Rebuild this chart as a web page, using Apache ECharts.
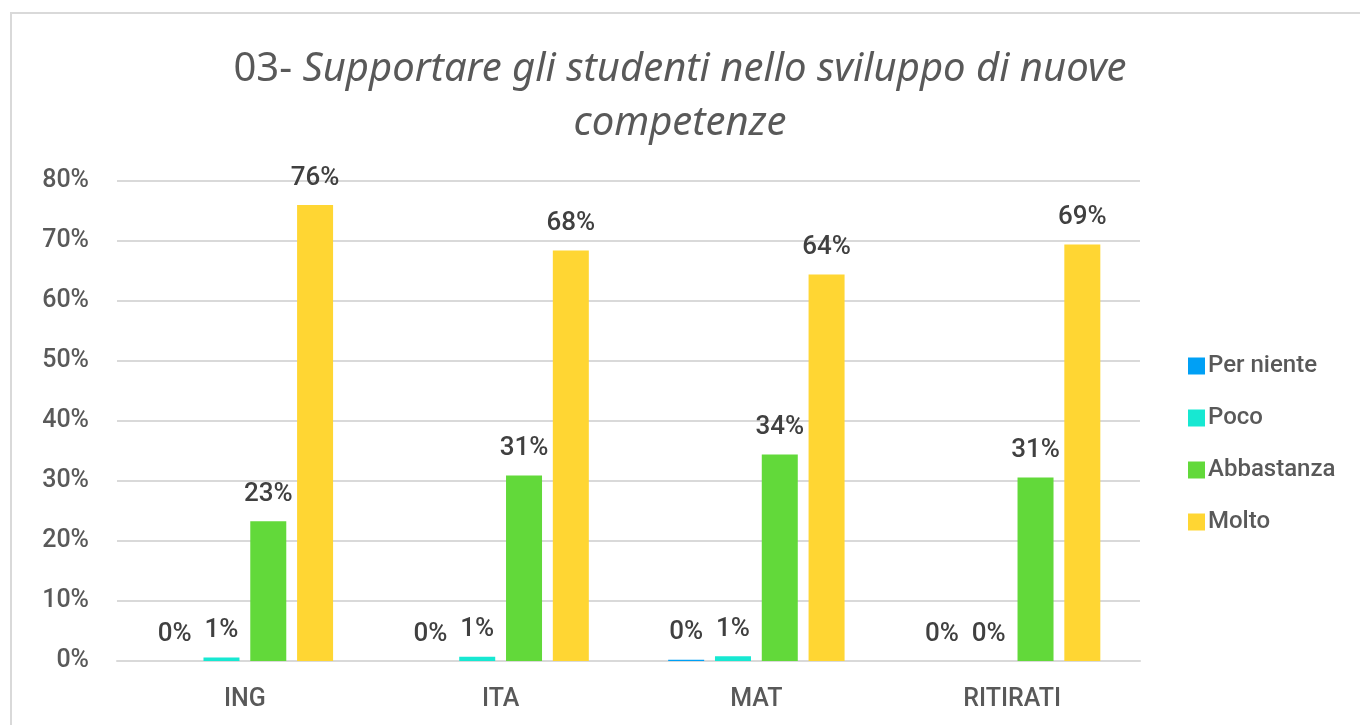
<!DOCTYPE html>
<html>
<head>
<meta charset="utf-8">
<script src="https://cdn.jsdelivr.net/npm/echarts@6/dist/echarts.min.js"></script>
<style>
  html, body { margin: 0; padding: 0; background: #ffffff; }
  #chart { width: 1360px; height: 725px; }
</style>
</head>
<body>
<div id="chart"></div>
<script>
  // dati
  var categories = ['ING', 'ITA', 'MAT', 'RITIRATI'];
  var perNiente = [0, 0, 0.2, 0];
  var poco = [0.6, 0.7, 0.8, 0];
  var abbastanza = [23.3, 30.9, 34.4, 30.6];
  var molto = [76.0, 68.4, 64.4, 69.4];
  var yTicks = [0, 10, 20, 30, 40, 50, 60, 70, 80];

  var seriesNames = ['Per niente', 'Poco', 'Abbastanza', 'Molto'];
  var seriesColors = ['#00a0f5', '#17e8d2', '#62d93a', '#ffd633'];
  var seriesData = [perNiente, poco, abbastanza, molto];

  var FONT = 'Roboto, "Noto Sans", sans-serif';
  var TITLE_FONT = '"Noto Sans", sans-serif';

  var chart = echarts.init(document.getElementById('chart'));

  chart.setOption({
    backgroundColor: '#ffffff',
    animation: false,
    title: {
      text: '{n|03- }{i|Supportare gli studenti nello sviluppo di nuove}\n{i|competenze}',
      left: 'center',
      top: 38,
      textStyle: {
        fontWeight: 'normal',
        rich: {
          n: { fontFamily: TITLE_FONT, fontSize: 40, fontWeight: 'normal', color: '#595959', lineHeight: 54 },
          i: { fontFamily: TITLE_FONT, fontSize: 40, fontWeight: 'normal', fontStyle: 'italic', color: '#595959', lineHeight: 54 }
        }
      }
    },
    graphic: [{
      type: 'rect',
      shape: { x: 11, y: 13, width: 1400, height: 760 },
      style: { fill: 'none', stroke: '#d9d9d9', lineWidth: 2 },
      silent: true
    }],
    legend: {
      orient: 'vertical',
      left: 1183,
      top: 349,
      itemWidth: 17,
      itemHeight: 17,
      itemGap: 28,
      icon: 'rect',
      data: seriesNames,
      textStyle: { fontFamily: FONT, fontSize: 24, fontWeight: 500, color: '#595959', padding: [0, 0, 0, -2] }
    },
    grid: {
      left: 117,
      right: 220,
      top: 181,
      bottom: 64,
      containLabel: false
    },
    xAxis: {
      type: 'category',
      data: categories,
      axisTick: { show: false },
      axisLine: { lineStyle: { color: '#d9d9d9', width: 2 } },
      axisLabel: { fontFamily: FONT, fontSize: 25, fontWeight: 500, color: '#595959', margin: 26 }
    },
    yAxis: {
      type: 'value',
      min: yTicks[0],
      max: yTicks[yTicks.length - 1],
      interval: 10,
      axisLine: { show: false },
      axisTick: { show: false },
      splitLine: { lineStyle: { color: '#d9d9d9', width: 2 } },
      axisLabel: {
        fontFamily: FONT, fontSize: 25, fontWeight: 500, color: '#595959', margin: 28,
        formatter: '{value}%'
      }
    },
    series: seriesNames.map(function (name, i) {
      return {
        name: name,
        type: 'bar',
        data: seriesData[i],
        barWidth: 36,
        barGap: '30%',
        itemStyle: { color: seriesColors[i] },
        label: {
          show: true,
          position: 'top',
          distance: 14,
          fontFamily: FONT,
          fontSize: 26,
          fontWeight: 500,
          color: '#404040',
          formatter: function (p) { return Math.round(p.value) + '%'; }
        }
      };
    })
  });
</script>
</body>
</html>
